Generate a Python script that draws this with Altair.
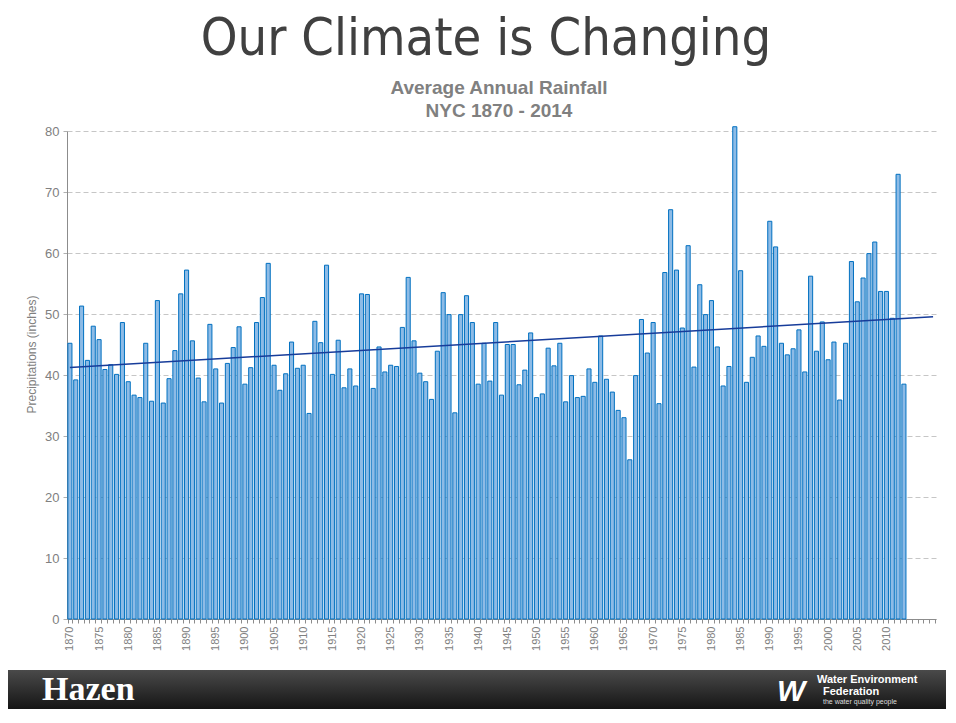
import altair as alt
import pandas as pd

# ---- data ----
start_year = 1870
rainfall = [
    45.2, 39.2, 51.3, 42.4, 48.0, 45.8, 40.9, 41.7, 40.1, 48.6,   # 1870-1879
    38.9, 36.7, 36.3, 45.2, 35.7, 52.2, 35.4, 39.4, 44.0, 53.3,   # 1880-1889
    57.2, 45.6, 39.5, 35.6, 48.3, 41.0, 35.4, 41.9, 44.5, 47.9,   # 1890-1899
    38.5, 41.2, 48.6, 52.7, 58.3, 41.6, 37.5, 40.2, 45.4, 41.1,   # 1900-1909
    41.6, 33.7, 48.8, 45.3, 58.0, 40.1, 45.7, 37.9, 41.0, 38.2,   # 1910-1919
    53.3, 53.2, 37.8, 44.6, 40.5, 41.6, 41.4, 47.8, 56.0, 45.6,   # 1920-1929
    40.3, 38.9, 36.0, 43.9, 53.5, 49.9, 33.8, 49.9, 53.0, 48.6,   # 1930-1939
    38.5, 45.2, 39.0, 48.6, 36.7, 45.0, 45.0, 38.4, 40.8, 46.9,   # 1940-1949
    36.3, 36.9, 44.4, 41.5, 45.2, 35.6, 39.9, 36.3, 36.5, 41.0,   # 1950-1959
    38.8, 46.4, 39.3, 37.2, 34.2, 33.0, 26.1, 39.9, 49.1, 43.6,   # 1960-1969
    48.6, 35.3, 56.8, 67.1, 57.2, 47.7, 61.2, 41.3, 54.8, 49.9,   # 1970-1979
    52.2, 44.6, 38.2, 41.4, 80.7, 57.1, 38.8, 42.9, 46.4, 44.7,   # 1980-1989
    65.2, 61.0, 45.2, 43.3, 44.3, 47.4, 40.5, 56.2, 43.9, 48.7,   # 1990-1999
    42.5, 45.4, 35.9, 45.2, 58.6, 52.0, 55.9, 59.9, 61.8, 53.7,   # 2000-2009
    53.7, 49.3, 72.9, 38.5,                                       # 2010-2013
]
years = list(range(start_year, start_year + len(rainfall)))
axis_years = list(range(1870, 2019))
y_ticks = [0, 10, 20, 30, 40, 50, 60, 70, 80]

title_text = "Our Climate is Changing"
subtitle_lines = ["Average Annual Rainfall", "NYC 1870 - 2014"]
y_title = "Precipitations (inches)"

df = pd.DataFrame({"year": years, "rain": rainfall})

W, H = 869, 488

x_enc = alt.X(
    "year:O",
    title=None,
    scale=alt.Scale(domain=axis_years, paddingInner=0.3, paddingOuter=0.15),
    axis=alt.Axis(
        values=axis_years,
        labelExpr="(datum.value % 5 == 0 && datum.value <= 2010) ? datum.label : ''",
        tickBand="extent",
        labelAngle=270,
        labelFont="Liberation Sans",
        labelFontSize=11,
        labelColor="#808080",
        labelPadding=3,
        labelOverlap=False,
        tickSize=4,
        tickColor="#8c8c8c",
        domainColor="#8c8c8c",
        grid=False,
    ),
)

y_enc = alt.Y(
    "rain:Q",
    scale=alt.Scale(domain=[0, 80], nice=False),
    axis=alt.Axis(
        values=y_ticks,
        title=y_title,
        titleFont="Liberation Sans",
        titleFontSize=12,
        titleFontWeight="normal",
        titleColor="#808080",
        titleX=-36,
        titleY=223,
        titleAngle=270,
        titleAlign="center",
        titleBaseline="middle",
        labelFont="Liberation Sans",
        labelFontSize=13,
        labelColor="#808080",
        labelPadding=4,
        tickSize=4,
        tickColor="#b0b0b0",
        domainColor="#8c8c8c",
        grid=True,
        gridColor="#c6c6c6",
        gridDash=[5, 3],
    ),
)

bars = alt.Chart(df).mark_bar(fill="#8dbbe6", stroke="#0070c0", strokeWidth=1).encode(
    x=x_enc, y=y_enc
)

trend = (
    alt.Chart(df)
    .transform_regression("year", "rain", extent=[1870, 2018])
    .mark_line(color="#173c9a", strokeWidth=1.5)
    .encode(x=alt.X("year:O"), y=alt.Y("rain:Q"))
)


def label(text, x, y, size, color, font, weight="normal", align="center", style="normal"):
    return (
        alt.Chart(pd.DataFrame({"t": [text]}))
        .mark_text(
            font=font,
            fontSize=size,
            fontWeight=weight,
            fontStyle=style,
            color=color,
            align=align,
            baseline="alphabetic",
        )
        .encode(text="t:N", x=alt.value(x), y=alt.value(y))
    )


footer_grad = alt.LinearGradient(
    gradient="linear",
    stops=[
        alt.GradientStop(color="#4a4a4a", offset=0),
        alt.GradientStop(color="#151515", offset=1),
    ],
    x1=0, x2=0, y1=0, y2=1,
)
footer = (
    alt.Chart(pd.DataFrame({"k": [0]}))
    .mark_rect(fill=footer_grad)
    .encode(x=alt.value(-59), x2=alt.value(879), y=alt.value(539), y2=alt.value(578))
)

title = label(title_text, 419, -76, 52, "#404040", "DejaVu Sans Condensed, DejaVu Sans")
sub1 = label(subtitle_lines[0], 432, -37, 19, "#808080", "Liberation Sans", "bold")
sub2 = label(subtitle_lines[1], 432, -14, 19, "#808080", "Liberation Sans", "bold")

hazen = label("Hazen", -25, 569, 34, "#ffffff", "Liberation Serif", "bold", "left")
wlogo = label("W", 710, 570, 30, "#ffffff", "Liberation Sans", "bold", "left", "italic")
wef1 = label("Water Environment", 750, 552, 11, "#ffffff", "Liberation Sans Narrow, Liberation Sans", "bold", "left")
wef2 = label("Federation", 756, 564, 11, "#ffffff", "Liberation Sans Narrow, Liberation Sans", "bold", "left")
wef3 = label("the water quality people", 756, 573, 7, "#dddddd", "Liberation Sans", "normal", "left")

chart = (
    alt.layer(bars, trend, footer, title, sub1, sub2, hazen, wlogo, wef1, wef2, wef3)
    .properties(
        width=W,
        height=H,
        autosize=alt.AutoSizeParams(type="none"),
        padding={"left": 59, "top": 123, "right": 10, "bottom": 90},
    )
    .configure_view(strokeWidth=0)
)

chart.save("out.html", embed_options={"renderer": "svg", "actions": False})
